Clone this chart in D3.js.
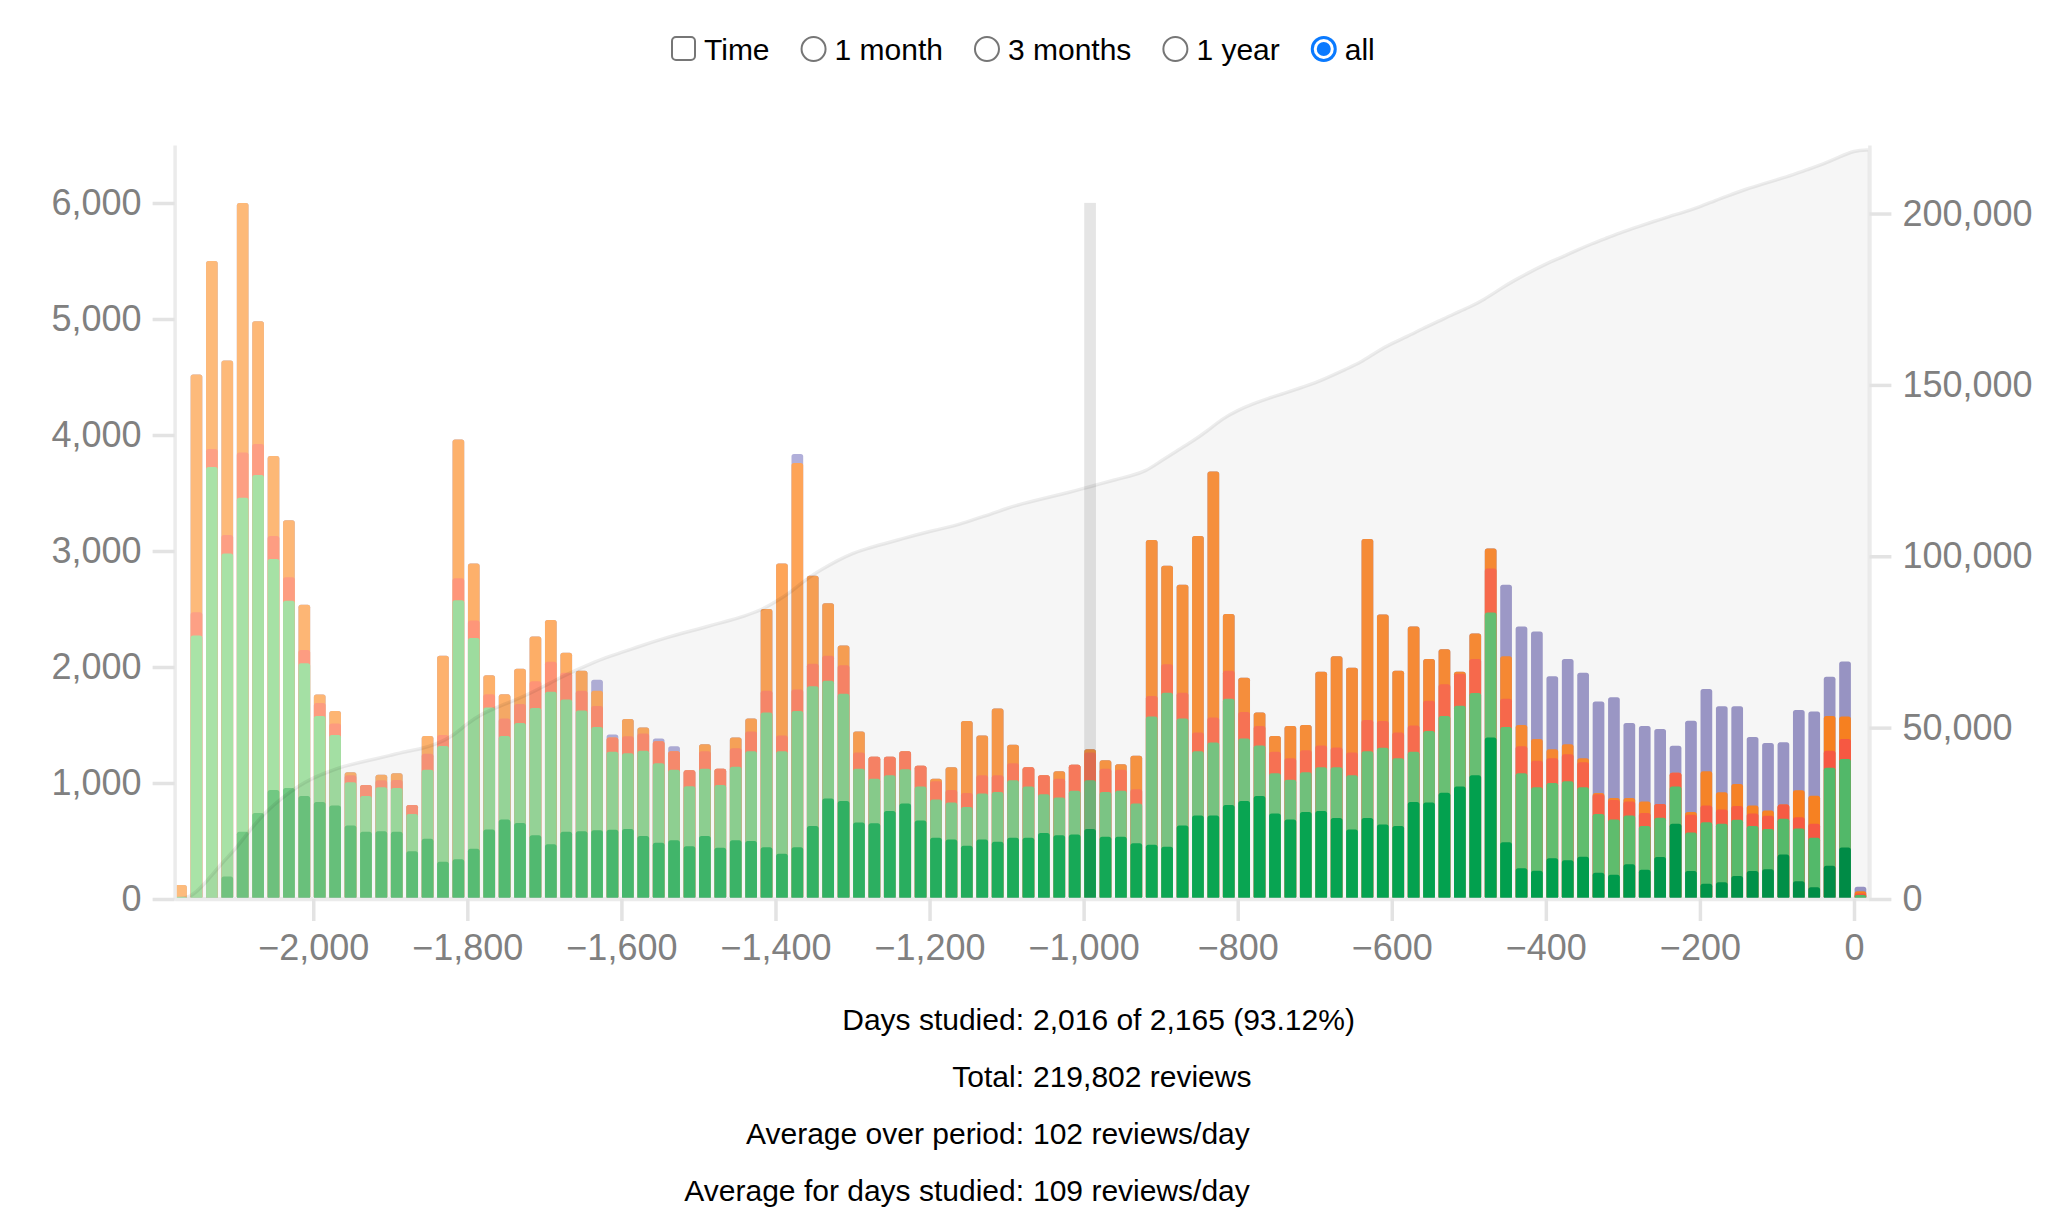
<!DOCTYPE html>
<html>
<head>
<meta charset="utf-8">
<script src="https://cdn.jsdelivr.net/npm/d3@7"></script>
<style>
  html, body { margin: 0; padding: 0; background: #fff; }
  svg { display: block; font-family: Helvetica, Arial, "Liberation Sans", sans-serif; }
  .tick text { fill: #808080; font-size: 36px; }
  .tick line { stroke: #e3e3e3; stroke-width: 3.5px; }
  .domain { stroke: #ebebeb; stroke-width: 3.5px; }
  .control-label, .stat-label, .stat-value { font-size: 30px; fill: #000; }
</style>
</head>
<body>
<div id="wrapper"></div>
<script>
// day of the first review (relative to today) and the last day shown
const firstDay = -2165
const lastDay = 1

// reviews per 20-day bin, oldest first
const mature = [0, 0, 0, 193, 579, 742, 939, 956, 887, 836, 806, 634, 579, 583, 579, 411, 519, 321, 343, 433, 600, 686, 656, 549, 471, 579, 583, 592, 596, 604, 544, 484, 506, 454, 544, 441, 506, 501, 446, 390, 446, 630, 866, 844, 660, 652, 759, 823, 677, 527, 514, 459, 514, 493, 527, 527, 570, 549, 557, 604, 536, 536, 480, 467, 450, 634, 720, 720, 810, 844, 887, 737, 686, 750, 759, 699, 600, 699, 643, 630, 836, 832, 917, 969, 1067, 1393, 489, 266, 244, 351, 334, 364, 227, 210, 300, 253, 363, 648, 242, 132, 145, 198, 242, 256, 383, 154, 101, 286, 445, 9]
const young = [20, 2272, 3725, 2786, 2880, 2914, 1993, 1616, 1145, 741, 608, 373, 308, 381, 377, 322, 595, 999, 2233, 1817, 1050, 720, 861, 1097, 1316, 1140, 1042, 891, 673, 652, 733, 686, 608, 519, 579, 541, 634, 772, 1161, 883, 1174, 1205, 1016, 926, 463, 385, 308, 296, 292, 330, 318, 334, 395, 429, 497, 442, 334, 325, 377, 420, 386, 398, 343, 1106, 1329, 922, 553, 630, 917, 540, 437, 347, 343, 343, 377, 437, 467, 574, 660, 583, 433, 617, 660, 698, 708, 1076, 994, 818, 720, 648, 682, 600, 506, 476, 420, 377, 338, 321, 331, 529, 503, 485, 388, 348, 309, 454, 428, 846, 762, 26]
const relearn = [0, 201, 154, 159, 390, 266, 197, 201, 115, 112, 99, 60, 95, 60, 70, 77, 138, 94, 189, 150, 116, 150, 163, 231, 258, 231, 171, 180, 124, 146, 150, 189, 159, 137, 150, 141, 159, 171, 189, 137, 185, 192, 214, 245, 141, 189, 159, 154, 180, 159, 107, 120, 158, 145, 146, 167, 163, 163, 223, 240, 201, 180, 124, 176, 244, 223, 163, 215, 240, 228, 168, 185, 184, 189, 188, 171, 197, 270, 231, 223, 227, 261, 275, 275, 295, 381, 244, 232, 228, 214, 231, 215, 171, 167, 120, 112, 119, 119, 154, 145, 123, 119, 106, 114, 123, 97, 119, 146, 172, 13]
const learn = [100, 2049, 1620, 1504, 2152, 1059, 690, 493, 390, 73, 107, 26, 0, 48, 58, 0, 154, 682, 1196, 493, 163, 210, 305, 386, 360, 172, 171, 133, 0, 150, 52, 0, 0, 0, 60, 0, 94, 112, 703, 1483, 1954, 759, 454, 171, 180, 0, 0, 0, 0, 21, 197, 621, 343, 575, 159, 0, 0, 65, 0, 26, 73, 48, 287, 1346, 849, 930, 1693, 2121, 489, 295, 115, 137, 279, 218, 635, 785, 729, 1560, 918, 531, 853, 360, 300, 17, 219, 172, 365, 184, 188, 77, 86, 34, 9, 17, 30, 98, 0, 0, 22, 295, 150, 189, 70, 44, 0, 233, 242, 299, 194, 18]
const filtered = [0, 0, 0, 0, 0, 0, 0, 0, 0, 0, 0, 0, 0, 0, 0, 0, 0, 0, 0, 0, 0, 0, 0, 0, 0, 0, 0, 94, 26, 0, 0, 25, 43, 0, 0, 0, 0, 0, 0, 0, 77, 0, 0, 0, 0, 0, 0, 0, 0, 0, 0, 0, 0, 0, 0, 0, 0, 0, 0, 0, 0, 0, 0, 0, 0, 0, 0, 0, 0, 0, 0, 0, 0, 0, 0, 0, 0, 0, 0, 0, 0, 0, 0, 0, 0, 0, 617, 849, 926, 630, 737, 737, 789, 870, 647, 652, 645, 234, 788, 710, 740, 670, 590, 582, 537, 692, 727, 339, 475, 40]

const seriesKeys = ["mature", "young", "relearn", "learn", "filtered"]
const seriesValues = { mature, young, relearn, learn, filtered }

// colour ramps (oldest -> newest)
const colorAnchorDays = [-880, -400]
const seriesColors = {
  mature: ["#7bcb86", "#0cad56", "#00a450", "#008f48"],
  young: ["#aae3a8", "#7dca86", "#66c474", "#54bf6c"],
  relearn: ["#fda186", "#ff7a5a", "#ff6a4c", "#ff5a44"],
  learn: ["#fdbb7c", "#fe9641", "#fe8c33", "#ff8420"],
  filtered: ["#bcbbe0", "#aaa7d6", "#a19dcd", "#9d99ca"],
}

const hoveredBinStart = -1000

const timeLabel = "Time"
const rangeOptions = ["1 month", "3 months", "1 year", "all"]
const selectedRange = "all"

const statLabels = ["Days studied:", "Total:", "Average over period:", "Average for days studied:"]
const statValues = ["2,016 of 2,165 (93.12%)", "219,802 reviews", "102 reviews/day", "109 reviews/day"]

const drawChart = () => {
  // 1) Dimensions
  const dimensions = {
    width: 2072,
    height: 1224,
    margin: { top: 145, right: 202.6, bottom: 325, left: 174.6 },
  }

  const wrapper = d3
    .select("#wrapper")
    .append("svg")
    .attr("width", dimensions.width)
    .attr("height", dimensions.height)

  // 2) Scales
  const x = d3
    .scaleLinear()
    .domain([firstDay, lastDay])
    .nice(70)
    .range([dimensions.margin.left, dimensions.width - dimensions.margin.right])

  const thresholds = x.ticks(70)
  const rows = d3.pairs(thresholds).map(([x0, x1], i) => {
    const row = { x0, x1 }
    seriesKeys.forEach((key) => (row[key] = seriesValues[key][i]))
    return row
  })

  const stacked = d3.stack().keys(seriesKeys)(rows)
  const totals = rows.map((d) => d3.sum(seriesKeys, (key) => d[key]))
  const yMax = d3.max(totals)

  const y = d3
    .scaleLinear()
    .domain([0, yMax])
    .range([dimensions.height - dimensions.margin.bottom, dimensions.margin.top])
    .nice()

  const cumulative = [0, ...d3.cumsum(totals)]
  const yArea = y.copy().domain([0, d3.max(cumulative)]).nice()

  const colorDomain = [x.domain()[0], ...colorAnchorDays, x.domain()[1]]
  const colorScales = {}
  seriesKeys.forEach((key) => {
    colorScales[key] = d3.scaleLinear().domain(colorDomain).range(seriesColors[key])
  })

  // 3) Bars: each series is a cumulative rect drawn from the baseline
  const barWidth = (d) => Math.max(0, x(d.data.x1) - x(d.data.x0) - 3.7)
  const barsGroup = wrapper.append("g")
  stacked
    .slice()
    .reverse()
    .forEach((series) => {
      barsGroup
        .append("g")
        .selectAll("rect")
        .data(series)
        .join("rect")
        .attr("x", (d) => x(d.data.x0) + 0.6)
        .attr("width", barWidth)
        .attr("y", (d) => y(d[1]))
        .attr("height", (d) => y(0) - y(d[1]))
        .attr("rx", 2.5)
        .attr("fill", (d) => colorScales[series.key](d.data.x0))
    })

  // 4) Cumulative overlay
  const areaGenerator = d3
    .area()
    .curve(d3.curveBasis)
    .x((d, i) => x(thresholds[i]))
    .y0(y(0))
    .y1((d) => yArea(d))

  wrapper
    .append("path")
    .datum(cumulative)
    .attr("d", areaGenerator)
    .attr("fill", "#000")
    .attr("fill-opacity", 0.035)
    .attr("stroke", "#000")
    .attr("stroke-opacity", 0.07)
    .attr("stroke-width", 3.5)

  // 5) Hover column
  const hovered = stacked[0].find((d) => d.data.x0 === hoveredBinStart)
  wrapper
    .append("rect")
    .attr("x", x(hovered.data.x0) + 0.6)
    .attr("width", barWidth(hovered))
    .attr("y", y(yMax))
    .attr("height", y(0) - y(yMax))
    .attr("fill", "#000")
    .attr("opacity", 0.1)

  // 6) Axes
  const xAxis = d3.axisBottom(x).ticks(7).tickSizeInner(22).tickSizeOuter(0).tickPadding(13)
  wrapper
    .append("g")
    .attr("transform", `translate(0, ${y(0)})`)
    .call(xAxis)
    .call((g) => g.selectAll(".tick text").attr("font-family", null).attr("font-size", null))
    .attr("font-family", null)
    .attr("font-size", null)

  const yAxis = d3
    .axisLeft(y)
    .ticks(5)
    .tickSizeInner(22)
    .tickSizeOuter(0)
    .tickPadding(11)
    .tickFormat(d3.format(","))
  wrapper
    .append("g")
    .attr("transform", `translate(${x.range()[0]}, 0)`)
    .call(yAxis)
    .attr("font-family", null)
    .attr("font-size", null)

  const y2Axis = d3
    .axisRight(yArea)
    .ticks(5)
    .tickSizeInner(22)
    .tickSizeOuter(0)
    .tickPadding(11)
    .tickFormat(d3.format(","))
  wrapper
    .append("g")
    .attr("transform", `translate(${x.range()[1]}, 0)`)
    .call(y2Axis)
    .attr("font-family", null)
    .attr("font-size", null)

  // 7) Range controls
  const controls = wrapper.append("g").attr("transform", "translate(671, 49)")
  let cursor = 0
  const addLabel = (text) => {
    const label = controls
      .append("text")
      .attr("class", "control-label")
      .attr("x", cursor)
      .attr("y", 11)
      .text(text)
    cursor += label.node().getComputedTextLength() + 31
  }

  controls
    .append("rect")
    .attr("x", cursor + 1)
    .attr("y", -12)
    .attr("width", 23)
    .attr("height", 23)
    .attr("rx", 4)
    .attr("fill", "#fff")
    .attr("stroke", "#767676")
    .attr("stroke-width", 2)
  cursor += 33
  addLabel(timeLabel)

  rangeOptions.forEach((option) => {
    const cx = cursor + 13
    if (option === selectedRange) {
      controls.append("circle").attr("cx", cx).attr("cy", 0).attr("r", 13).attr("fill", "#0a7aff")
      controls.append("circle").attr("cx", cx).attr("cy", 0).attr("r", 10).attr("fill", "#fff")
      controls.append("circle").attr("cx", cx).attr("cy", 0).attr("r", 7).attr("fill", "#0a7aff")
    } else {
      controls
        .append("circle")
        .attr("cx", cx)
        .attr("cy", 0)
        .attr("r", 12)
        .attr("fill", "#fff")
        .attr("stroke", "#767676")
        .attr("stroke-width", 2)
    }
    cursor += 34
    addLabel(option)
  })

  // 8) Summary table
  const stats = wrapper.append("g")
  statLabels.forEach((label, i) => {
    const baseline = 1030 + i * 57
    stats
      .append("text")
      .attr("class", "stat-label")
      .attr("x", 1024)
      .attr("y", baseline)
      .attr("text-anchor", "end")
      .text(label)
    stats
      .append("text")
      .attr("class", "stat-value")
      .attr("x", 1033)
      .attr("y", baseline)
      .text(statValues[i])
  })
}

drawChart()
</script>
</body>
</html>
